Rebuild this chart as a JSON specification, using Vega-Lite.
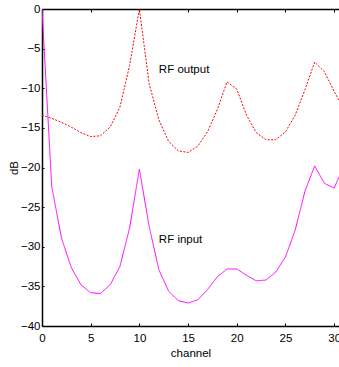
{
  "$schema": "https://vega.github.io/schema/vega-lite/v6.json",
  "autosize": "none",
  "padding": {"left": 42, "top": 9, "right": 0, "bottom": 41},
  "width": 297,
  "height": 317,
  "background": "white",
  "config": {
    "view": {"stroke": null},
    "font": "Liberation Sans, Arial, sans-serif",
    "axis": {
      "labelFont": "Liberation Sans, Arial, sans-serif",
      "titleFont": "Liberation Sans, Arial, sans-serif",
      "labelFontSize": 11.5,
      "titleFontSize": 11.5,
      "labelColor": "black",
      "titleColor": "black",
      "domainColor": "black",
      "tickColor": "black",
      "domainWidth": 1.5,
      "grid": false,
      "titleFontWeight": "normal"
    }
  },
  "datasets": {
    "lines": [
      {"channel": 0, "dB": -13.4, "series": "RF output"},
      {"channel": 1, "dB": -13.8, "series": "RF output"},
      {"channel": 2, "dB": -14.3, "series": "RF output"},
      {"channel": 3, "dB": -14.9, "series": "RF output"},
      {"channel": 4, "dB": -15.6, "series": "RF output"},
      {"channel": 5, "dB": -16.1, "series": "RF output"},
      {"channel": 6, "dB": -16.0, "series": "RF output"},
      {"channel": 7, "dB": -14.9, "series": "RF output"},
      {"channel": 8, "dB": -12.4, "series": "RF output"},
      {"channel": 9, "dB": -7.1, "series": "RF output"},
      {"channel": 10, "dB": 0, "series": "RF output"},
      {"channel": 11, "dB": -9.4, "series": "RF output"},
      {"channel": 12, "dB": -14.0, "series": "RF output"},
      {"channel": 13, "dB": -16.7, "series": "RF output"},
      {"channel": 14, "dB": -17.9, "series": "RF output"},
      {"channel": 15, "dB": -18.1, "series": "RF output"},
      {"channel": 16, "dB": -17.3, "series": "RF output"},
      {"channel": 17, "dB": -15.5, "series": "RF output"},
      {"channel": 18, "dB": -12.7, "series": "RF output"},
      {"channel": 19, "dB": -9.2, "series": "RF output"},
      {"channel": 20, "dB": -10.1, "series": "RF output"},
      {"channel": 21, "dB": -13.4, "series": "RF output"},
      {"channel": 22, "dB": -15.6, "series": "RF output"},
      {"channel": 23, "dB": -16.5, "series": "RF output"},
      {"channel": 24, "dB": -16.5, "series": "RF output"},
      {"channel": 25, "dB": -15.5, "series": "RF output"},
      {"channel": 26, "dB": -13.4, "series": "RF output"},
      {"channel": 27, "dB": -10.2, "series": "RF output"},
      {"channel": 28, "dB": -6.7, "series": "RF output"},
      {"channel": 29, "dB": -7.9, "series": "RF output"},
      {"channel": 30, "dB": -10.4, "series": "RF output"},
      {"channel": 31, "dB": -12.6, "series": "RF output"},
      {"channel": 0, "dB": 0, "series": "RF input"},
      {"channel": 1, "dB": -22.4, "series": "RF input"},
      {"channel": 2, "dB": -28.9, "series": "RF input"},
      {"channel": 3, "dB": -32.6, "series": "RF input"},
      {"channel": 4, "dB": -34.8, "series": "RF input"},
      {"channel": 5, "dB": -35.8, "series": "RF input"},
      {"channel": 6, "dB": -35.9, "series": "RF input"},
      {"channel": 7, "dB": -34.8, "series": "RF input"},
      {"channel": 8, "dB": -32.5, "series": "RF input"},
      {"channel": 9, "dB": -27.6, "series": "RF input"},
      {"channel": 10, "dB": -20.2, "series": "RF input"},
      {"channel": 11, "dB": -27.4, "series": "RF input"},
      {"channel": 12, "dB": -32.9, "series": "RF input"},
      {"channel": 13, "dB": -35.6, "series": "RF input"},
      {"channel": 14, "dB": -36.8, "series": "RF input"},
      {"channel": 15, "dB": -37.1, "series": "RF input"},
      {"channel": 16, "dB": -36.7, "series": "RF input"},
      {"channel": 17, "dB": -35.4, "series": "RF input"},
      {"channel": 18, "dB": -33.8, "series": "RF input"},
      {"channel": 19, "dB": -32.8, "series": "RF input"},
      {"channel": 20, "dB": -32.8, "series": "RF input"},
      {"channel": 21, "dB": -33.6, "series": "RF input"},
      {"channel": 22, "dB": -34.3, "series": "RF input"},
      {"channel": 23, "dB": -34.2, "series": "RF input"},
      {"channel": 24, "dB": -33.2, "series": "RF input"},
      {"channel": 25, "dB": -31.3, "series": "RF input"},
      {"channel": 26, "dB": -27.9, "series": "RF input"},
      {"channel": 27, "dB": -23.0, "series": "RF input"},
      {"channel": 28, "dB": -19.8, "series": "RF input"},
      {"channel": 29, "dB": -22.0, "series": "RF input"},
      {"channel": 30, "dB": -22.6, "series": "RF input"},
      {"channel": 31, "dB": -19.8, "series": "RF input"}
    ],
    "labels": [
      {"channel": 12.0, "dB": -7.7, "label": "RF output"},
      {"channel": 12.0, "dB": -29.2, "label": "RF input"}
    ]
  },
  "layer": [
    {
      "data": {"name": "lines"},
      "mark": {"type": "line", "clip": true, "strokeWidth": 1},
      "encoding": {
        "x": {
          "field": "channel", "type": "quantitative",
          "scale": {"domain": [0, 30.5], "nice": false, "zero": false},
          "axis": {"orient": "bottom", "title": "channel", "values": [0, 5, 10, 15, 20, 25, 30],
                   "tickSize": -3, "labelPadding": 9, "titlePadding": 4, "labelFlush": false}
        },
        "y": {
          "field": "dB", "type": "quantitative",
          "scale": {"domain": [-40, 0], "nice": false},
          "axis": {"title": "dB", "values": [-40, -35, -30, -25, -20, -15, -10, -5, 0],
                   "tickSize": -2, "labelPadding": 4, "titlePadding": 1, "labelFlush": false}
        },
        "color": {
          "field": "series", "type": "nominal",
          "scale": {"domain": ["RF output", "RF input"], "range": ["#ff0000", "#ff00ff"]},
          "legend": null
        },
        "strokeDash": {
          "field": "series", "type": "nominal",
          "scale": {"domain": ["RF output", "RF input"], "range": [[2, 1.5], [1, 0]]},
          "legend": null
        }
      }
    },
    {
      "data": {"name": "labels"},
      "mark": {"type": "text", "align": "left", "baseline": "middle", "fontSize": 11.5, "font": "Liberation Sans, Arial, sans-serif", "color": "black"},
      "encoding": {
        "x": {
          "field": "channel", "type": "quantitative",
          "axis": {"orient": "top", "title": null, "labels": false, "values": [0, 5, 10, 15, 20, 25, 30], "tickSize": -3}
        },
        "y": {"field": "dB", "type": "quantitative", "axis": null},
        "text": {"field": "label"}
      }
    }
  ],
  "resolve": {"axis": {"x": "independent", "y": "independent"}}
}
